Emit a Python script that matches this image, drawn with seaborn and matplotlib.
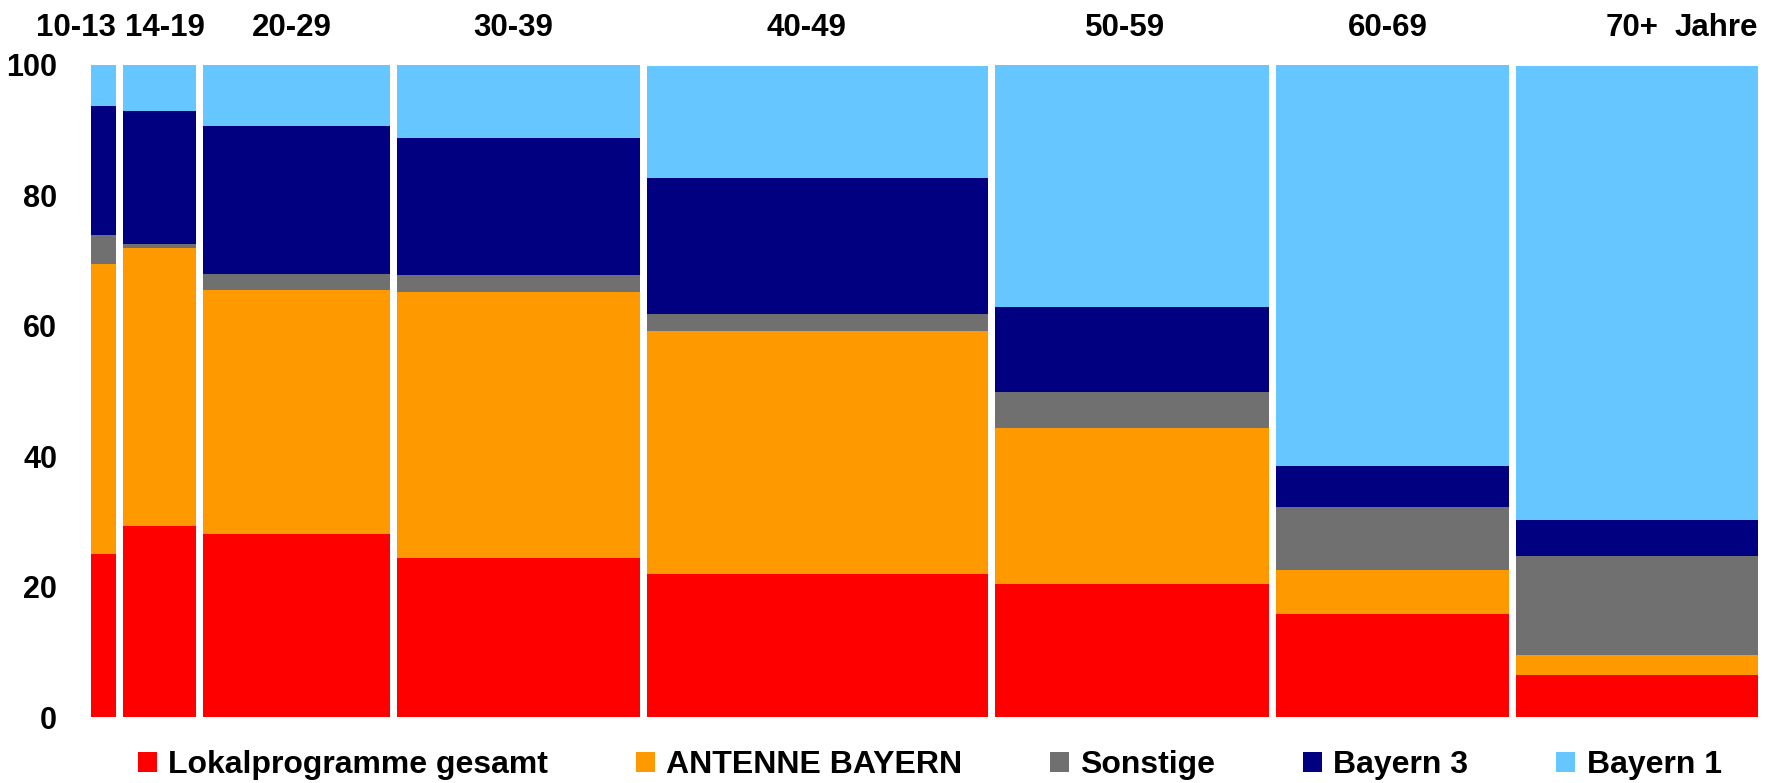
import numpy as np
import pandas as pd
import seaborn as sns
import matplotlib.pyplot as plt

# Age groups (column widths = share of population, %)
age_groups = ['10-13', '14-19', '20-29', '30-39', '40-49', '50-59', '60-69', '70+']
group_share = [1.9, 4.8, 11.6, 14.9, 20.8, 16.8, 14.3, 14.9]

# Station shares within each age group (%), stacked bottom to top
lokal = [25.0, 29.3, 28.1, 24.4, 21.9, 20.4, 15.8, 6.4]
antenne = [44.5, 42.6, 37.4, 40.8, 37.3, 24.0, 6.7, 3.2]
sonstige = [4.4, 0.6, 2.5, 2.6, 2.6, 5.5, 9.8, 15.1]
bayern3 = [19.8, 20.4, 22.7, 21.0, 20.8, 13.0, 6.2, 5.5]
bayern1 = [6.3, 7.1, 9.4, 11.2, 17.3, 37.1, 61.5, 69.7]

stations = ['Lokalprogramme gesamt', 'ANTENNE BAYERN', 'Sonstige', 'Bayern 3', 'Bayern 1']
colors = ['#FF0000', '#FF9900', '#707070', '#000080', '#66C6FF']

df = pd.DataFrame({
    'Lokalprogramme gesamt': lokal,
    'ANTENNE BAYERN': antenne,
    'Sonstige': sonstige,
    'Bayern 3': bayern3,
    'Bayern 1': bayern1,
}, index=age_groups)

sns.set_theme(style='white')
plt.rcParams['font.family'] = ['Liberation Sans', 'DejaVu Sans']
plt.rcParams['font.weight'] = 'bold'
plt.rcParams['text.color'] = 'black'
plt.rcParams['ytick.color'] = 'black'

fig, ax = plt.subplots(figsize=(17.74, 7.83), dpi=100)
fig.subplots_adjust(left=0.0494, right=0.9930, top=0.917, bottom=0.084)

# Marimekko: variable width columns
edges = np.concatenate([[0], np.cumsum(group_share)])
left = edges[:-1]
widths = np.diff(edges)
gap = 0.42

bottom = np.zeros(len(age_groups))
for name, col in zip(stations, colors):
    vals = df[name].values
    ax.bar(left + gap / 2, vals, width=widths - gap, bottom=bottom,
           align='edge', color=col, linewidth=0, label=name)
    bottom += vals

ax.set_xlim(0, 100)
ax.set_ylim(0, 100)
ax.set_xticks([])
ax.set_yticks(range(0, 101, 20))
ax.tick_params(axis='y', length=0, pad=22, labelsize=22, labelcolor='black')
for lab in ax.get_yticklabels():
    lab.set_fontweight('bold')
sns.despine(ax=ax, left=True, bottom=True)

# age group labels above the columns (small nudges to the left as in the original)
nudge = [0, 0, -0.3, -0.3, -0.66, -0.45, -0.27, -0.3]
trans = ax.get_xaxis_transform()
label_y = 1.0445
for i, g in enumerate(age_groups):
    if i == 0:
        x, ha = edges[1] - gap / 2, 'right'
    elif i == 1:
        x, ha = left[1] + gap / 2 + 0.14, 'left'
    else:
        x, ha = left[i] + widths[i] / 2 + nudge[i], 'center'
    ax.text(x, label_y, g, transform=trans, ha=ha, va='baseline',
            fontsize=22.5, fontweight='bold', color='black')
ax.text(100 - gap / 2, label_y, 'Jahre', transform=trans, ha='right', va='baseline',
        fontsize=22.5, fontweight='bold', color='black')

handles, labels = ax.get_legend_handles_labels()
leg = fig.legend(handles, labels, loc='center', bbox_to_anchor=(0.524, 0.023), ncol=5,
                 frameon=False, fontsize=23, handlelength=0.6, handleheight=0.6,
                 handletextpad=0.35, columnspacing=2.75)
for t in leg.get_texts():
    t.set_color('black')

fig.savefig('out.png', dpi=100)
